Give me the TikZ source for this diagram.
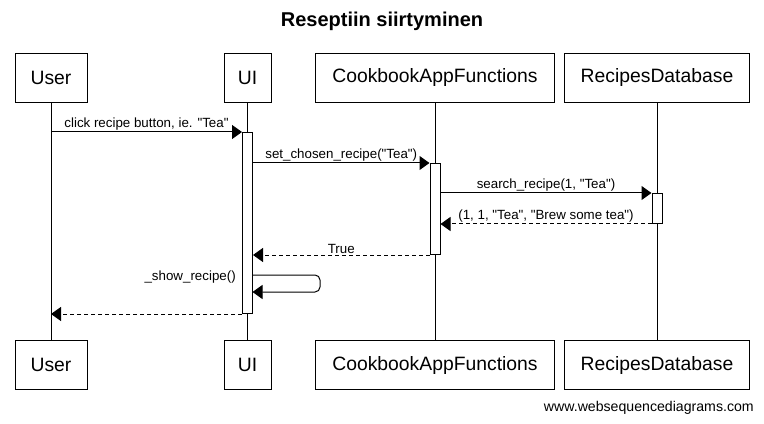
\documentclass[tikz,border=0pt]{standalone}
\usepackage{fontspec}
\setmainfont{Liberation Sans}[Ligatures=TeXOff]
\usetikzlibrary{positioning,arrows.meta}

\tikzset{
  actor/.style={draw, fill=white, line width=0.75pt, inner sep=0pt,
                minimum height=49*0.75pt, font=\fontsize{14.5}{17}\selectfont},
  activation/.style={draw, fill=white, line width=0.75pt, inner sep=0pt,
                minimum width=10*0.75pt},
  lifeline/.style={line width=0.75pt},
  msg/.style={line width=0.75pt, -{Triangle[length=7.5pt, width=10.5pt]}},
  reply/.style={msg, dash pattern=on 3pt off 2.25pt},
  lbl/.style={font=\fontsize{10}{12}\selectfont, inner sep=0pt}
}

\begin{document}
\begin{tikzpicture}[x=0.75pt, y=-0.75pt]
    \useasboundingbox (0,0) rectangle (764,424);

    \node[font=\bfseries\fontsize{15}{18}\selectfont] (title) at (382,21) {Reseptiin siirtyminen};

    % participants, top and bottom
    \foreach \n/\t/\x/\w in {user/User/51/72, ui/UI/247.5/47,
      caf/CookbookAppFunctions/435/239, db/RecipesDatabase/657/185}{
      \node[actor, minimum width=\w*0.75pt] (\n-top) at (\x,78) {\t};
      \node[actor, minimum width=\w*0.75pt] (\n-bot) at (\x,365) {\t};
      \draw[lifeline] (\n-top) -- (\n-bot);
    }

    % activations
    \node[activation, minimum height=181*0.75pt, anchor=north] (uiact) at (247.5,132) {};
    \node[activation, minimum height=91*0.75pt, anchor=north] (cafact) at (435,163) {};
    \node[activation, minimum height=30*0.75pt, anchor=north] (dbact) at (657,193) {};

    \draw[msg] (user-top |- uiact.north) -- node[lbl, midway, above=1pt] {click recipe button, ie. "Tea"} (uiact.north west);
    \draw[msg] (uiact.east |- cafact.north) -- node[lbl, midway, above=1pt] {set\_chosen\_recipe("Tea")} (cafact.north west);
    \draw[msg] (cafact.east |- dbact.north) -- node[lbl, midway, above=1pt] {search\_recipe(1, "Tea")} (dbact.north west);
    \draw[reply] (dbact.south west) -- node[lbl, midway, above=1pt] {(1, 1, "Tea", "Brew some tea")} (cafact.east |- dbact.south);
    \draw[reply] (cafact.south west) -- node[lbl, midway, above=1pt] {True} (uiact.east |- cafact.south);

    % self call
    \coordinate (selfout) at (252.5,275);
    \coordinate (selfin) at (252.5,292);
    \draw[msg, rounded corners=3.75pt] (selfout) -- ++(67.5,0) |- (selfin);
    \node[lbl, anchor=east] (showlbl) at (236,277) {\_show\_recipe()};

    \draw[reply] (uiact.south west) -- (user-top |- uiact.south);

    \node[anchor=east, inner sep=0pt, font=\fontsize{10.6}{12}\selectfont] (wsd) at (754,408) {www.websequencediagrams.com};
\end{tikzpicture}
\end{document}
